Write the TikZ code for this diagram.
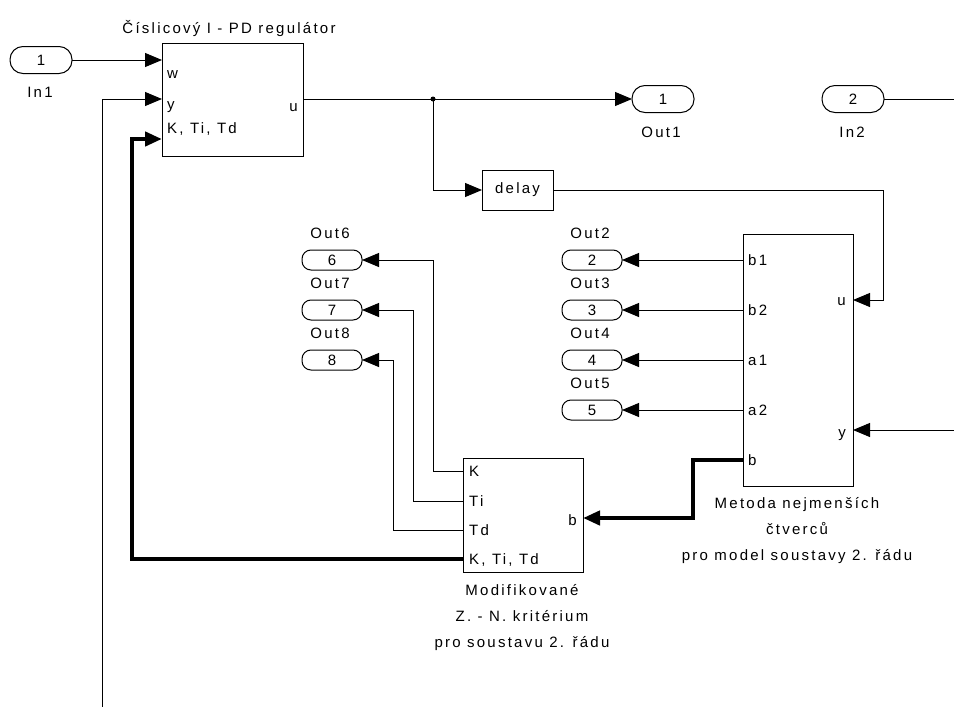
\documentclass[tikz,border=0pt]{standalone}
\usepackage{fontspec}
\setmainfont{Liberation Sans}[LetterSpace=15]
\usetikzlibrary{arrows.meta,calc}
\begin{document}
\begin{tikzpicture}[x=1pt,y=-1pt,
  lbl/.style={font=\fontsize{15}{17}\selectfont, inner sep=0pt, text height=12pt, text depth=2pt},
  blk/.style={draw, line width=1pt, inner sep=0pt, outer sep=0pt, font=\fontsize{15}{17}\selectfont},
  port/.style={draw, line width=1pt, rounded corners=13pt, minimum width=62pt, minimum height=27pt, inner sep=0pt, outer sep=0pt, font=\fontsize{15}{17}\selectfont},
  sport/.style={port, rounded corners=9pt, minimum width=60pt, minimum height=20pt},
  wire/.style={line width=1pt},
  sig/.style={line width=1pt, -{Triangle[length=17pt,width=14pt]}},
  bus/.style={line width=4.5pt, -{Triangle[length=17pt,width=14pt]}}
]
\useasboundingbox (0,0) rectangle (954,707);

% blocks
\node[blk, minimum width=141pt, minimum height=113pt] (reg) at (232.5,99.5) {};
\node[blk, minimum width=71pt, minimum height=40pt] (delay) at (517.5,190) {delay};
\node[blk, minimum width=110pt, minimum height=252pt] (mnc) at (798,360) {};
\node[blk, minimum width=120pt, minimum height=114pt] (zn) at (523,515) {};

% block port points
\coordinate (reg-w) at (162,60);
\coordinate (reg-y) at (162,99);
\coordinate (reg-k) at (162,139);
\coordinate (reg-u) at (303,99);
\coordinate (mnc-b1) at (743,260);
\coordinate (mnc-b2) at (743,310);
\coordinate (mnc-a1) at (743,360);
\coordinate (mnc-a2) at (743,410);
\coordinate (mnc-b) at (743,460);
\coordinate (mnc-u) at (853,300);
\coordinate (mnc-y) at (853,430);
\coordinate (zn-k) at (463,471);
\coordinate (zn-ti) at (463,501);
\coordinate (zn-td) at (463,530);
\coordinate (zn-all) at (463,559);
\coordinate (zn-b) at (583,518);
\coordinate (edge-in2) at (954,99);
\coordinate (edge-y) at (954,430);
\coordinate (edge-bot) at (102,707);
\coordinate (split) at (433,99);

% ports
\node[port] (in1) at (41,60) {1};
\node[port] (out1) at (663,99) {1};
\node[port] (in2) at (853,99) {2};
\node[sport] (out2) at (592,260) {2};
\node[sport] (out3) at (592,310) {3};
\node[sport] (out4) at (592,360) {4};
\node[sport] (out5) at (592,410) {5};
\node[sport] (out6) at (332,260) {6};
\node[sport] (out7) at (332,310) {7};
\node[sport] (out8) at (332,360) {8};

% port names
\node[lbl] (in1l) at (40,92) {In1};
\node[lbl] (out1l) at (661,132) {Out1};
\node[lbl] (in2l) at (852,132) {In2};
\node[lbl] (out2l) at (590,233) {Out2};
\node[lbl] (out3l) at (590,283) {Out3};
\node[lbl] (out4l) at (590,333) {Out4};
\node[lbl] (out5l) at (590,383) {Out5};
\node[lbl] (out6l) at (330,233) {Out6};
\node[lbl] (out7l) at (330,283) {Out7};
\node[lbl] (out8l) at (330,333) {Out8};

% block titles
\node[lbl] (regt) at (229,28) {Číslicový I - PD regulátor};
\node[lbl] (mnct1) at (797,503) {Metoda nejmenších};
\node[lbl] (mnct2) at (797,529) {čtverců};
\node[lbl] (mnct3) at (797,555) {pro model soustavy 2. řádu};
\node[lbl] (znt1) at (522,590) {Modifikované};
\node[lbl] (znt2) at (522,616) {Z. - N. kritérium};
\node[lbl] (znt3) at (522,642) {pro soustavu 2. řádu};

% port labels inside blocks
\node[lbl, anchor=west] (lw) at (167,73) {w};
\node[lbl, anchor=west] (ly) at (167,104) {y};
\node[lbl, anchor=west] (lk) at (167,128) {K, Ti, Td};
\node[lbl, anchor=east] (lu) at (298,106) {u};
\node[lbl, anchor=west] (lb1) at (748,260) {b1};
\node[lbl, anchor=west] (lb2) at (748,310) {b2};
\node[lbl, anchor=west] (la1) at (748,360) {a1};
\node[lbl, anchor=west] (la2) at (748,410) {a2};
\node[lbl, anchor=west] (lb) at (748,460) {b};
\node[lbl, anchor=east] (lmu) at (846,300) {u};
\node[lbl, anchor=east] (lmy) at (846,432) {y};
\node[lbl, anchor=west] (lzk) at (469,471) {K};
\node[lbl, anchor=west] (lzti) at (469,501) {Ti};
\node[lbl, anchor=west] (lztd) at (469,530) {Td};
\node[lbl, anchor=west] (lzall) at (469,559) {K, Ti, Td};
\node[lbl, anchor=east] (lzb) at (577,520) {b};

% connectors
\draw[sig] (in1.east) -- (reg-w);
\draw[sig] (reg-u) -- (out1.west);
\fill (split) circle (2.5pt);
\draw[sig] (split) |- (delay.west);
\draw[sig] (delay.east) -- ++(330,0) |- (mnc-u);
\draw[wire] (in2.east) -- (edge-in2);
\draw[sig] (edge-y) -- (mnc-y);
\draw[sig] (mnc-b1) -- (out2.east);
\draw[sig] (mnc-b2) -- (out3.east);
\draw[sig] (mnc-a1) -- (out4.east);
\draw[sig] (mnc-a2) -- (out5.east);
\draw[bus] (mnc-b) -- ++(-50,0) |- (zn-b);
\draw[sig] (zn-k) -- ++(-30,0) |- (out6.east);
\draw[sig] (zn-ti) -- ++(-50,0) |- (out7.east);
\draw[sig] (zn-td) -- ++(-70,0) |- (out8.east);
\draw[bus] (zn-all) -- ++(-331,0) |- (reg-k);
\draw[sig] (edge-bot) |- (reg-y);
\end{tikzpicture}
\end{document}
